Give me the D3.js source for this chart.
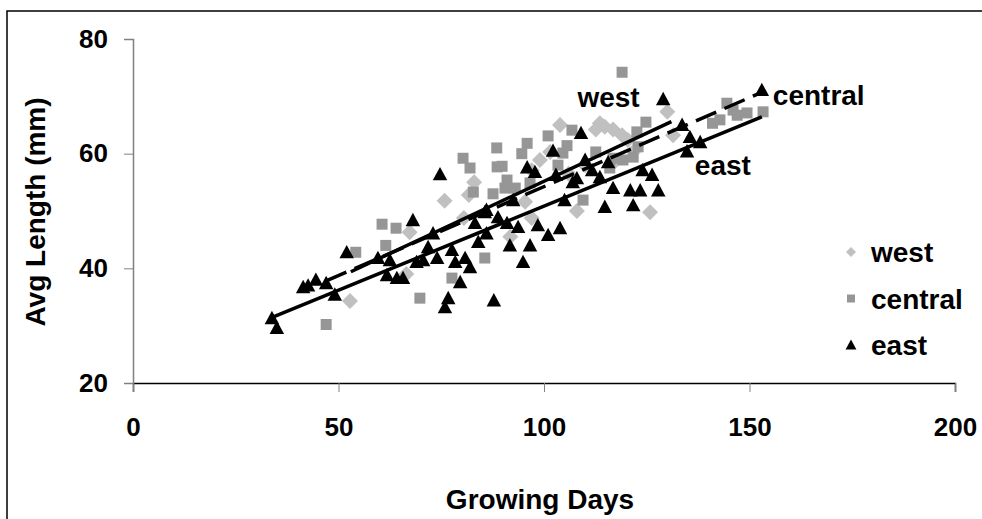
<!DOCTYPE html>
<html>
<head>
<meta charset="utf-8">
<script src="https://cdn.jsdelivr.net/npm/d3@7"></script>
<style>
  body { margin: 0; background: #fff; }
  svg text { font-family: "Liberation Sans", Arial, sans-serif; font-weight: bold; fill: #000; }
</style>
</head>
<body>
<svg width="982" height="519"></svg>
<script>
// [growing days, avg length]
var west = [
  [52.8, 34.3], [66.5, 39], [67.3, 46.3], [75.8, 51.8], [80.5, 48.8], [81.7, 52.8], [83, 55],
  [91.8, 45.5], [95.4, 51.6], [97, 48.8], [97, 57.1], [99, 58.9], [101.5, 60.3], [103.9, 65],
  [106, 56.5], [108, 50], [110, 58], [112.6, 64.2], [113.6, 65.3], [114.8, 64.7], [116.8, 64.2],
  [117, 58.5], [119, 63.2], [120.4, 62.4], [122, 60.5], [125.8, 49.8], [130, 67.3], [131.4, 63.2]
];
var central = [
  [47, 30.2], [54.2, 42.8], [60.6, 47.7], [61.5, 44], [64, 47], [69.8, 34.8], [77.6, 38.3],
  [80.3, 59.2], [82, 57.5], [82.8, 53.3], [85.6, 41.8], [87.6, 53], [88.5, 61], [88.6, 57.7],
  [89.8, 57.8], [90.5, 54], [91, 55.4], [93, 54], [94.6, 60], [95.9, 61.8], [96.6, 54.9],
  [101, 63.1], [103.4, 58], [104.6, 60.1], [105.6, 61.4], [106.8, 64.1], [109.5, 51.9],
  [112.6, 60.3], [116, 57.5], [116.8, 59.2], [119, 74.2], [119.2, 58.9], [121.7, 59.4],
  [122.6, 63.8], [122.9, 61.2], [124.8, 65.5], [141, 65.3], [142.8, 65.9], [144.5, 68.8],
  [146, 67.6], [147, 66.7], [149.4, 67.1], [153.3, 67.3]
];
var east = [
  [33.8, 31.3], [35, 29.6], [41.4, 36.7], [42.6, 37], [44.5, 38], [47, 37.4], [49.1, 35.4],
  [52, 42.8], [59.6, 41.8], [61.8, 38.8], [62.5, 41.4], [64.2, 38.3], [65.7, 38.3], [68.1, 48.4],
  [69, 41.1], [70.6, 41.4], [71.8, 43.7], [73, 46.1], [74, 41.8], [74.7, 56.4], [75.9, 33.2],
  [76.7, 34.8], [77.6, 43.2], [78.4, 41.1], [79.6, 37.6], [80.8, 41.8], [82, 40.2], [83.2, 47.9],
  [84, 44.6], [85.6, 49.8], [86, 46.1], [86, 50.2], [87.8, 34.4], [88.8, 48.9], [91, 47.9],
  [91.7, 44], [92.5, 51.9], [93.7, 47.2], [94.9, 41.1], [95.9, 57.6], [96.6, 44], [97.8, 56.8],
  [98.5, 47.5], [101, 45.8], [102.2, 60.5], [102.9, 56.3], [103.9, 47], [105, 51.9], [107, 55],
  [108, 55.7], [109, 63.6], [110, 58.9], [111.7, 57.1], [113.6, 55.9], [114.8, 50.7], [115.6, 58.5],
  [116.8, 54], [121, 53.6], [121.7, 51], [123.4, 53.6], [124, 57.1], [126.3, 56.3], [127.8, 53.6],
  [129, 69.5], [133.6, 65], [134.8, 60.4], [135.5, 62.9], [138, 62], [153, 71.1]
];

// trend line end points
var trendWest = [[53, 39.4], [131, 65.6]];
var trendCentral = [[47, 37.8], [153, 70.7]];
var trendEast = [[34, 31.5], [153, 66.4]];

var xTicks = [0, 50, 100, 150, 200],
  yTicks = [20, 40, 60, 80];

var svg = d3.select("svg"),
  margin = { top: 39, right: 27, bottom: 136, left: 133 },
  width = svg.attr("width") - margin.left - margin.right,
  height = svg.attr("height") - margin.top - margin.bottom;

// outer chart frame
svg.append("rect")
  .attr("x", 7).attr("y", 11)
  .attr("width", 1000).attr("height", 600)
  .attr("fill", "none").attr("stroke", "#000").attr("stroke-width", 1.5);

var x = d3.scaleLinear().domain([0, 200]).range([0, width]),
  y = d3.scaleLinear().domain([20, 80]).range([height, 0]);

var g = svg.append("g")
  .attr("transform", `translate(${margin.left},${margin.top})`);

var xAxis = g.append("g")
  .attr("transform", `translate(0,${height})`)
  .call(d3.axisBottom(x).tickValues(xTicks).tickSize(9).tickPadding(26));
xAxis.select(".domain").attr("stroke", "#000").attr("stroke-width", 1.5);
xAxis.selectAll(".tick line").attr("stroke", "#808080");
xAxis.selectAll("text").style("font-size", "26px");

var yAxis = g.append("g")
  .call(d3.axisLeft(y).tickValues(yTicks).tickSize(9).tickPadding(16));
yAxis.select(".domain").attr("stroke", "#808080").attr("stroke-width", 1.5);
yAxis.selectAll(".tick line").attr("stroke", "#808080");
yAxis.selectAll("text").style("font-size", "26px");

// custom triangle: width ~ height
var tri = {
  draw: function(ctx, size) {
    var h = Math.sqrt(size), w = h * 1.08;
    ctx.moveTo(0, -h * 0.55);
    ctx.lineTo(w / 2, h * 0.45);
    ctx.lineTo(-w / 2, h * 0.45);
    ctx.closePath();
  }
};

var series = [
  { key: "west", data: west, type: d3.symbolSquare, size: 128, rot: 45, fill: "#c0c0c0", lsize: 50 },
  { key: "central", data: central, type: d3.symbolSquare, size: 121, rot: 0, fill: "#969696", lsize: 64 },
  { key: "east", data: east, type: tri, size: 180, rot: 0, fill: "#000", lsize: 100 }
];

series.forEach(function(s) {
  g.append("g").selectAll("path")
    .data(s.data)
    .enter().append("path")
    .attr("d", d3.symbol().type(s.type).size(s.size))
    .attr("transform", d => `translate(${x(d[0])},${y(d[1])}) rotate(${s.rot})`)
    .attr("fill", s.fill);
});

var line = d3.line().x(d => x(d[0])).y(d => y(d[1]));

g.append("path").datum(trendWest).attr("d", line)
  .attr("stroke", "#000").attr("stroke-width", 3.5).attr("fill", "none");
g.append("path").datum(trendCentral).attr("d", line)
  .attr("stroke", "#000").attr("stroke-width", 3.5).attr("fill", "none")
  .attr("stroke-dasharray", "22,9");
g.append("path").datum(trendEast).attr("d", line)
  .attr("stroke", "#000").attr("stroke-width", 3.5).attr("fill", "none");

// line labels
var lineLabels = [
  { text: "west", at: trendWest[1], dx: -94, dy: -15 },
  { text: "central", at: trendCentral[1], dx: 11, dy: 13 },
  { text: "east", at: trendEast[1], dx: -67, dy: 58 }
];
g.selectAll(".lbl")
  .data(lineLabels)
  .enter().append("text")
  .attr("x", d => x(d.at[0]) + d.dx)
  .attr("y", d => y(d.at[1]) + d.dy)
  .style("font-size", "28px")
  .text(d => d.text);

// axis titles
svg.append("text")
  .attr("x", margin.left + width / 2 - 4)
  .attr("y", 509)
  .attr("text-anchor", "middle")
  .style("font-size", "28px")
  .text("Growing Days");

svg.append("text")
  .attr("transform", "translate(45,212) rotate(-90)")
  .attr("text-anchor", "middle")
  .style("font-size", "28px")
  .text("Avg Length (mm)");

// legend
var legend = svg.append("g").attr("transform", "translate(851,252)");
var item = legend.selectAll("g")
  .data(series)
  .enter().append("g")
  .attr("transform", (d, i) => `translate(0,${i * 46.5})`);
item.append("path")
  .attr("d", d => d3.symbol().type(d.type).size(d.lsize)())
  .attr("transform", d => `rotate(${d.rot})`)
  .attr("fill", d => d.fill);
item.append("text")
  .attr("x", 20)
  .attr("y", 10)
  .style("font-size", "28px")
  .text(d => d.key);
</script>
</body>
</html>
